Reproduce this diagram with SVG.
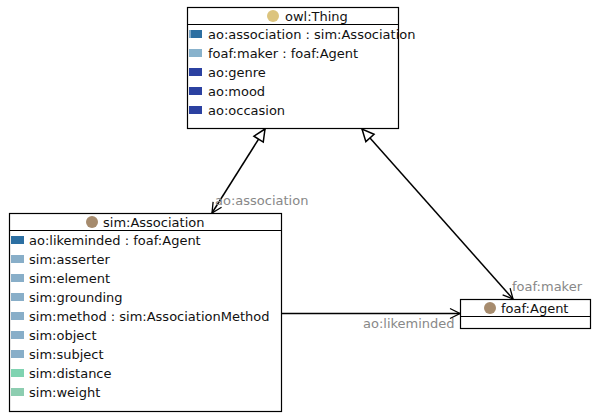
<svg xmlns="http://www.w3.org/2000/svg" width="598" height="419" viewBox="0 0 598 419">
<defs>
<style>
text{font-family:"DejaVu Sans","Verdana",sans-serif;font-size:13px;fill:#111}
.box{fill:#fff;stroke:#000;stroke-width:1.2}
.sep{stroke:#000;stroke-width:1.2}
.lbl{fill:#888}
.conn{stroke:#000;stroke-width:1.5;fill:none}
.c-y{fill:#dcc47e}
.c-b{fill:#a68b6d}
.i-obj{fill:#2c6fa2}
.i-lt{fill:#88b2cc}
.i-dk{fill:#2b41a1}
.i-sm{fill:#88aec8}
.i-g1{fill:#7fd3b1}
.i-g2{fill:#8ccdb0}
</style>
<marker id="tri" viewBox="-14 -7 16 14" refX="0" refY="0" markerWidth="16" markerHeight="14" markerUnits="userSpaceOnUse" orient="auto-start-reverse">
<path d="M0,0 L-12,-5.5 L-12,5.5 Z" fill="#fff" stroke="#000" stroke-width="1.5"/>
</marker>
<marker id="open" viewBox="-12 -7 14 14" refX="0" refY="0" markerWidth="14" markerHeight="14" markerUnits="userSpaceOnUse" orient="auto">
<path d="M-10,-5 L0,0 L-10,5" fill="none" stroke="#000" stroke-width="1.3"/>
</marker>
</defs>

<g id="connectors">
<path class="conn" d="M265,129 L212,213" marker-start="url(#tri)" marker-end="url(#open)"/>
<path class="conn" d="M362,129 L513,299" marker-start="url(#tri)" marker-end="url(#open)"/>
<path class="conn" d="M281,313.5 L460,313.5" marker-end="url(#open)"/>
<text class="lbl" x="215" y="205">ao:association</text>
<text class="lbl" x="512" y="291">foaf:maker</text>
<text class="lbl" x="363" y="328">ao:likeminded</text>
</g>

<g id="owl-Thing">
<rect class="box" x="187.5" y="7.5" width="211" height="121"/>
<line class="sep" x1="187.5" y1="24.5" x2="398.5" y2="24.5"/>
<circle class="c-y" cx="273" cy="16" r="6"/>
<text x="285" y="21">owl:Thing</text>
<rect class="i-obj" x="189" y="30" width="13" height="8"/>
<rect fill="#7fa8c8" x="189" y="30" width="2" height="8"/>
<text x="208" y="39">ao:association : sim:Association</text>
<rect class="i-lt" x="189" y="49" width="13" height="8"/>
<text x="208" y="58">foaf:maker : foaf:Agent</text>
<rect class="i-dk" x="189" y="68" width="13" height="8"/>
<text x="208" y="77">ao:genre</text>
<rect class="i-dk" x="189" y="87" width="13" height="8"/>
<text x="208" y="96">ao:mood</text>
<rect class="i-dk" x="189" y="106" width="13" height="8"/>
<text x="208" y="115">ao:occasion</text>
</g>

<g id="sim-Association">
<rect class="box" x="9.5" y="213.5" width="272" height="198"/>
<line class="sep" x1="9.5" y1="230.5" x2="281.5" y2="230.5"/>
<circle class="c-b" cx="92" cy="222" r="6"/>
<text x="103" y="227">sim:Association</text>
<rect class="i-obj" x="11" y="236" width="13" height="8"/>
<text x="29" y="245">ao:likeminded : foaf:Agent</text>
<rect class="i-sm" x="11" y="255" width="13" height="8"/>
<text x="29" y="264">sim:asserter</text>
<rect class="i-sm" x="11" y="274" width="13" height="8"/>
<text x="29" y="283">sim:element</text>
<rect class="i-sm" x="11" y="293" width="13" height="8"/>
<text x="29" y="302">sim:grounding</text>
<rect class="i-sm" x="11" y="312" width="13" height="8"/>
<text x="29" y="321">sim:method : sim:AssociationMethod</text>
<rect class="i-sm" x="11" y="331" width="13" height="8"/>
<text x="29" y="340">sim:object</text>
<rect class="i-sm" x="11" y="350" width="13" height="8"/>
<text x="29" y="359">sim:subject</text>
<rect class="i-g1" x="11" y="369" width="13" height="8"/>
<text x="29" y="378">sim:distance</text>
<rect class="i-g2" x="11" y="388" width="13" height="8"/>
<text x="29" y="397">sim:weight</text>
</g>

<g id="foaf-Agent">
<rect class="box" x="460.5" y="299.5" width="130" height="29"/>
<line class="sep" x1="460.5" y1="316.5" x2="590.5" y2="316.5"/>
<circle class="c-b" cx="490" cy="308" r="6"/>
<text x="501" y="313">foaf:Agent</text>
</g>
</svg>
